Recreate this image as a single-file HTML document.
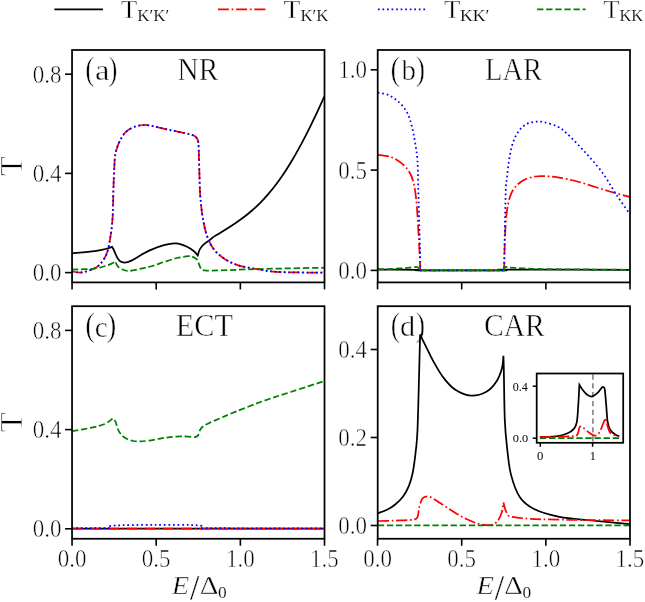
<!DOCTYPE html><html><head><meta charset="utf-8"><style>html,body{margin:0;padding:0;background:#fff;overflow:hidden}svg{display:block;will-change:transform}text{font-family:"Liberation Serif",serif;fill:#000}</style></head><body>
<svg width="645" height="602" viewBox="0 0 645 602">
<rect width="645" height="602" fill="#fff"/>
<defs>
<clipPath id="ca"><rect x="72.05" y="50.00" width="252.45" height="232.40"/></clipPath>
<clipPath id="cb"><rect x="377.70" y="50.00" width="252.30" height="232.40"/></clipPath>
<clipPath id="cc"><rect x="72.05" y="306.20" width="252.45" height="232.55"/></clipPath>
<clipPath id="cd"><rect x="377.70" y="306.20" width="252.30" height="232.55"/></clipPath>
<clipPath id="ci"><rect x="536.70" y="373.50" width="86.50" height="69.30"/></clipPath>
</defs>
<text x="0" y="0" font-size="100" fill="#000" stroke="#fff" stroke-width="1.648" transform="translate(85.268 80.150) scale(0.28033 0.32644)">(</text>
<text x="0" y="0" font-size="100" fill="#000" stroke="#fff" stroke-width="1.600" transform="translate(94.952 79.908) scale(0.32657 0.29854)">a</text>
<text x="0" y="0" font-size="100" fill="#000" stroke="#fff" stroke-width="1.680" transform="translate(108.534 80.150) scale(0.26865 0.32644)">)</text>
<text x="0" y="0" font-size="100" fill="#000" stroke="#fff" stroke-width="1.617" transform="translate(390.517 80.150) scale(0.29202 0.32644)">(</text>
<text x="0" y="0" font-size="100" fill="#000" stroke="#fff" stroke-width="1.707" transform="translate(401.400 79.911) scale(0.29010 0.29562)">b</text>
<text x="0" y="0" font-size="100" fill="#000" stroke="#fff" stroke-width="1.648" transform="translate(415.697 80.150) scale(0.28033 0.32644)">)</text>
<text x="0" y="0" font-size="100" fill="#000" stroke="#fff" stroke-width="1.608" transform="translate(85.217 336.380) scale(0.29202 0.32975)">(</text>
<text x="0" y="0" font-size="100" fill="#000" stroke="#fff" stroke-width="1.695" transform="translate(94.693 336.608) scale(0.29067 0.29940)">c</text>
<text x="0" y="0" font-size="100" fill="#000" stroke="#fff" stroke-width="1.598" transform="translate(106.546 336.380) scale(0.29591 0.32975)">)</text>
<text x="0" y="0" font-size="100" fill="#000" stroke="#fff" stroke-width="1.639" transform="translate(390.868 336.380) scale(0.28033 0.32975)">(</text>
<text x="0" y="0" font-size="100" fill="#000" stroke="#fff" stroke-width="1.654" transform="translate(400.004 336.306) scale(0.30333 0.30130)">d</text>
<text x="0" y="0" font-size="100" fill="#000" stroke="#fff" stroke-width="1.639" transform="translate(415.697 336.380) scale(0.28033 0.32975)">)</text>
<text x="0" y="0" font-size="100" fill="#000" stroke="#fff" stroke-width="1.636" transform="translate(177.554 80.100) scale(0.29362 0.31766)">NR</text>
<text x="0" y="0" font-size="100" fill="#000" stroke="#fff" stroke-width="1.677" transform="translate(484.977 80.100) scale(0.28583 0.31053)">LAR</text>
<text x="0" y="0" font-size="100" fill="#000" stroke="#fff" stroke-width="1.631" transform="translate(175.829 336.496) scale(0.30218 0.31107)">ECT</text>
<text x="0" y="0" font-size="100" fill="#000" stroke="#fff" stroke-width="1.635" transform="translate(483.986 336.492) scale(0.29598 0.31553)">CAR</text>
<path d="M72.05 253.40 C75.84 253.02 88.94 251.90 94.80 251.10 C100.66 250.30 104.33 249.32 107.20 248.60 C110.07 247.88 111.20 247.10 112.00 246.80 C112.32 247.35 113.07 248.38 113.90 250.10 C114.73 251.82 115.97 255.23 117.00 257.10 C118.03 258.97 118.82 260.38 120.10 261.30 C121.38 262.22 122.90 262.67 124.70 262.60 C126.50 262.53 128.18 262.15 130.90 260.90 C133.62 259.65 137.77 256.90 141.00 255.10 C144.23 253.30 146.33 251.80 150.30 250.10 C154.27 248.40 160.52 246.02 164.80 244.90 C169.08 243.78 172.28 243.08 176.00 243.40 C179.72 243.72 184.00 245.42 187.10 246.80 C190.20 248.18 192.83 250.25 194.60 251.70 C196.37 253.15 197.18 254.87 197.70 255.50 C198.00 254.58 198.78 251.55 199.50 250.00 C200.22 248.45 201.08 247.30 202.00 246.20 C202.92 245.10 203.90 244.28 205.00 243.40 C206.10 242.52 207.05 242.07 208.60 240.90 C210.15 239.73 212.40 237.72 214.30 236.40 C216.20 235.08 217.72 234.40 220.00 233.00 C222.28 231.60 225.33 229.72 228.00 228.00 C230.67 226.28 233.33 224.53 236.00 222.70 C238.67 220.87 241.33 219.03 244.00 217.00 C246.67 214.97 249.33 212.82 252.00 210.50 C254.67 208.18 257.33 205.78 260.00 203.10 C262.67 200.42 265.33 197.50 268.00 194.40 C270.67 191.30 273.33 188.03 276.00 184.50 C278.67 180.97 281.33 177.20 284.00 173.20 C286.67 169.20 289.33 164.97 292.00 160.50 C294.67 156.03 297.33 151.30 300.00 146.40 C302.67 141.50 305.33 136.38 308.00 131.10 C310.67 125.82 313.33 120.33 316.00 114.70 C318.67 109.07 322.17 101.32 324.00 97.30 C325.83 93.28 326.50 91.72 327.00 90.60" fill="none" stroke="#000000" stroke-width="1.75"  clip-path="url(#ca)"/>
<path d="M71.70 271.40 C73.42 271.57 77.92 273.07 82.00 272.40 C86.08 271.73 92.53 269.63 96.20 267.40 C99.87 265.17 101.98 262.20 104.00 259.00 C106.02 255.80 106.92 254.37 108.30 248.20 C109.68 242.03 111.45 231.70 112.30 222.00 C113.15 212.30 113.12 198.03 113.40 190.00 C113.68 181.97 113.73 179.33 114.00 173.80 C114.27 168.27 114.50 161.12 115.00 156.80 C115.50 152.48 116.02 150.88 117.00 147.90 C117.98 144.92 119.42 141.57 120.90 138.90 C122.38 136.23 123.73 133.88 125.90 131.90 C128.07 129.92 130.92 128.15 133.90 127.00 C136.88 125.85 140.65 125.13 143.80 125.00 C146.95 124.87 148.40 125.35 152.80 126.20 C157.20 127.05 164.12 128.77 170.20 130.10 C176.28 131.43 185.25 133.20 189.30 134.20 C193.35 135.20 193.18 135.33 194.50 136.10 C195.82 136.87 196.55 137.65 197.20 138.80 C197.85 139.95 198.12 140.25 198.40 143.00 C198.68 145.75 198.73 150.22 198.90 155.30 C199.07 160.38 199.23 167.77 199.40 173.50 C199.57 179.23 199.70 185.28 199.90 189.70 C200.10 194.12 200.15 195.47 200.60 200.00 C201.05 204.53 201.57 211.02 202.60 216.90 C203.63 222.78 204.92 229.88 206.80 235.30 C208.68 240.72 210.85 245.42 213.90 249.40 C216.95 253.38 220.88 256.50 225.10 259.20 C229.32 261.90 233.55 263.90 239.20 265.60 C244.85 267.30 254.10 268.48 259.00 269.40 C263.90 270.32 263.90 270.62 268.60 271.10 C273.30 271.58 277.63 272.05 287.20 272.30 C296.77 272.55 319.53 272.55 326.00 272.60" fill="none" stroke="#ff0000" stroke-width="1.75" stroke-dasharray="11 2.75 1.72 2.75" clip-path="url(#ca)"/>
<path d="M71.70 271.40 C73.42 271.57 77.92 273.07 82.00 272.40 C86.08 271.73 92.53 269.63 96.20 267.40 C99.87 265.17 101.98 262.20 104.00 259.00 C106.02 255.80 106.92 254.37 108.30 248.20 C109.68 242.03 111.45 231.70 112.30 222.00 C113.15 212.30 113.12 198.03 113.40 190.00 C113.68 181.97 113.73 179.33 114.00 173.80 C114.27 168.27 114.50 161.12 115.00 156.80 C115.50 152.48 116.02 150.88 117.00 147.90 C117.98 144.92 119.42 141.57 120.90 138.90 C122.38 136.23 123.73 133.88 125.90 131.90 C128.07 129.92 130.92 128.15 133.90 127.00 C136.88 125.85 140.65 125.13 143.80 125.00 C146.95 124.87 148.40 125.35 152.80 126.20 C157.20 127.05 164.12 128.77 170.20 130.10 C176.28 131.43 185.25 133.20 189.30 134.20 C193.35 135.20 193.18 135.33 194.50 136.10 C195.82 136.87 196.55 137.65 197.20 138.80 C197.85 139.95 198.12 140.25 198.40 143.00 C198.68 145.75 198.73 150.22 198.90 155.30 C199.07 160.38 199.23 167.77 199.40 173.50 C199.57 179.23 199.70 185.28 199.90 189.70 C200.10 194.12 200.15 195.47 200.60 200.00 C201.05 204.53 201.57 211.02 202.60 216.90 C203.63 222.78 204.92 229.88 206.80 235.30 C208.68 240.72 210.85 245.42 213.90 249.40 C216.95 253.38 220.88 256.50 225.10 259.20 C229.32 261.90 233.55 263.90 239.20 265.60 C244.85 267.30 254.10 268.48 259.00 269.40 C263.90 270.32 263.90 270.62 268.60 271.10 C273.30 271.58 277.63 272.05 287.20 272.30 C296.77 272.55 319.53 272.55 326.00 272.60" fill="none" stroke="#0000ff" stroke-width="1.75" stroke-dasharray="1.72 2.83" clip-path="url(#ca)"/>
<path d="M72.05 269.70 C75.84 269.50 88.94 269.22 94.80 268.50 C100.66 267.78 103.80 266.53 107.20 265.40 C110.60 264.27 113.87 262.32 115.20 261.70 C115.63 262.48 116.73 265.17 117.80 266.40 C118.87 267.63 119.85 268.33 121.60 269.10 C123.35 269.87 125.07 271.07 128.30 271.00 C131.53 270.93 136.98 269.53 141.00 268.70 C145.02 267.87 148.43 267.17 152.40 266.00 C156.37 264.83 160.67 263.03 164.80 261.70 C168.93 260.37 173.27 258.93 177.20 258.00 C181.13 257.07 185.72 256.25 188.40 256.10 C191.08 255.95 191.85 256.48 193.30 257.10 C194.75 257.72 195.85 257.90 197.10 259.80 C198.35 261.70 199.57 266.73 200.80 268.50 C202.03 270.27 201.30 270.08 204.50 270.40 C207.70 270.72 212.42 270.58 220.00 270.40 C227.58 270.22 238.80 269.63 250.00 269.30 C261.20 268.97 274.53 268.67 287.20 268.40 C299.87 268.13 319.53 267.82 326.00 267.70" fill="none" stroke="#008000" stroke-width="1.75" stroke-dasharray="6.35 2.75" clip-path="url(#ca)"/>
<rect x="72.05" y="50.00" width="252.45" height="232.40" fill="none" stroke="#000" stroke-width="1.75"/>
<line x1="65.05" y1="272.60" x2="72.05" y2="272.60" stroke="#000" stroke-width="1.6"/>
<text x="0" y="0" font-size="100" fill="#000" stroke="#fff" stroke-width="2.121" transform="translate(32.724 281.158) scale(0.23002 0.24146)">0.0</text>
<line x1="65.05" y1="173.40" x2="72.05" y2="173.40" stroke="#000" stroke-width="1.6"/>
<text x="0" y="0" font-size="100" fill="#000" stroke="#fff" stroke-width="2.121" transform="translate(32.724 181.958) scale(0.23002 0.24146)">0.4</text>
<line x1="65.05" y1="74.20" x2="72.05" y2="74.20" stroke="#000" stroke-width="1.6"/>
<text x="0" y="0" font-size="100" fill="#000" stroke="#fff" stroke-width="2.121" transform="translate(32.724 82.758) scale(0.23002 0.24146)">0.8</text>
<line x1="72.05" y1="282.40" x2="72.05" y2="289.40" stroke="#000" stroke-width="1.6"/>
<line x1="156.20" y1="282.40" x2="156.20" y2="289.40" stroke="#000" stroke-width="1.6"/>
<line x1="240.35" y1="282.40" x2="240.35" y2="289.40" stroke="#000" stroke-width="1.6"/>
<line x1="324.50" y1="282.40" x2="324.50" y2="289.40" stroke="#000" stroke-width="1.6"/>
<path d="M377.70 269.60 C384.45 269.63 411.07 269.67 418.20 269.80 C425.33 269.93 406.28 270.30 420.50 270.40 C434.72 270.50 489.42 270.53 503.50 270.40 C517.58 270.27 483.58 269.68 505.00 269.60 C526.42 269.52 610.83 269.85 632.00 269.90" fill="none" stroke="#000000" stroke-width="1.75"  clip-path="url(#cb)"/>
<path d="M377.80 154.80 C380.10 155.22 387.37 155.65 391.60 157.30 C395.83 158.95 400.15 162.08 403.20 164.70 C406.25 167.32 408.10 169.67 409.90 173.00 C411.70 176.33 412.85 179.18 414.00 184.70 C415.15 190.22 415.90 195.27 416.80 206.10 C417.70 216.93 418.82 238.98 419.40 249.70 C419.98 260.42 420.15 266.95 420.30 270.40 L504.10 270.40 C504.25 264.88 504.58 246.75 505.00 237.30 C505.42 227.85 505.77 220.47 506.60 213.70 C507.43 206.93 508.45 201.28 510.00 196.70 C511.55 192.12 513.42 189.07 515.90 186.20 C518.38 183.33 521.65 181.12 524.90 179.50 C528.15 177.88 532.17 177.05 535.40 176.50 C538.63 175.95 540.57 176.07 544.30 176.20 C548.03 176.33 552.00 176.33 557.80 177.30 C563.60 178.27 570.72 179.72 579.10 182.00 C587.48 184.28 599.28 188.42 608.10 191.00 C616.92 193.58 628.02 196.42 632.00 197.50" fill="none" stroke="#ff0000" stroke-width="1.75" stroke-dasharray="11 2.75 1.72 2.75" clip-path="url(#cb)"/>
<path d="M377.80 92.50 C379.55 92.92 384.88 93.48 388.30 95.00 C391.72 96.52 395.25 98.83 398.30 101.60 C401.35 104.37 404.40 107.72 406.60 111.60 C408.80 115.48 410.12 119.92 411.50 124.90 C412.88 129.88 413.92 135.68 414.90 141.50 C415.88 147.32 416.85 152.55 417.40 159.80 C417.95 167.05 417.93 175.80 418.20 185.00 C418.47 194.20 418.70 204.22 419.00 215.00 C419.30 225.78 419.77 240.47 420.00 249.70 C420.23 258.93 420.33 266.95 420.40 270.40 L504.10 270.40 C504.25 262.25 504.72 234.90 505.00 221.50 C505.28 208.10 505.47 197.37 505.80 190.00 C506.13 182.63 506.43 182.42 507.00 177.30 C507.57 172.18 508.22 165.03 509.20 159.30 C510.18 153.57 511.28 147.63 512.90 142.90 C514.52 138.17 516.65 134.02 518.90 130.90 C521.15 127.78 523.65 125.73 526.40 124.20 C529.15 122.67 532.42 122.02 535.40 121.70 C538.38 121.38 540.57 121.47 544.30 122.30 C548.03 123.13 553.95 124.75 557.80 126.70 C561.65 128.65 562.88 129.78 567.40 134.00 C571.92 138.22 579.08 145.58 584.90 152.00 C590.72 158.42 596.97 165.25 602.30 172.50 C607.63 179.75 611.95 188.08 616.90 195.50 C621.85 202.92 629.48 213.42 632.00 217.00" fill="none" stroke="#0000ff" stroke-width="1.75" stroke-dasharray="1.72 2.83" clip-path="url(#cb)"/>
<path d="M377.70 269.20 C380.00 269.15 387.65 269.05 391.50 268.90 C395.35 268.75 397.83 268.50 400.80 268.30 C403.77 268.10 406.72 267.93 409.30 267.70 C411.88 267.47 414.82 266.92 416.30 266.90 C417.78 266.88 417.48 267.02 418.20 267.60 C418.92 268.18 420.20 269.93 420.60 270.40 L504.10 270.40 C504.27 269.85 504.03 267.55 505.10 267.10 C506.17 266.65 508.30 267.53 510.50 267.70 C512.70 267.87 515.45 267.95 518.30 268.10 C521.15 268.25 524.63 268.47 527.60 268.60 C530.57 268.73 533.27 268.82 536.10 268.90 C538.93 268.98 535.62 269.00 544.60 269.10 C553.58 269.20 575.43 269.38 590.00 269.50 C604.57 269.62 625.00 269.75 632.00 269.80" fill="none" stroke="#008000" stroke-width="1.75" stroke-dasharray="6.35 2.75" clip-path="url(#cb)"/>
<rect x="377.70" y="50.00" width="252.30" height="232.40" fill="none" stroke="#000" stroke-width="1.75"/>
<line x1="370.70" y1="270.40" x2="377.70" y2="270.40" stroke="#000" stroke-width="1.6"/>
<text x="0" y="0" font-size="100" fill="#000" stroke="#fff" stroke-width="2.121" transform="translate(338.374 278.958) scale(0.23002 0.24146)">0.0</text>
<line x1="370.70" y1="170.10" x2="377.70" y2="170.10" stroke="#000" stroke-width="1.6"/>
<text x="0" y="0" font-size="100" fill="#000" stroke="#fff" stroke-width="2.121" transform="translate(338.374 178.658) scale(0.23002 0.24146)">0.5</text>
<line x1="370.70" y1="69.80" x2="377.70" y2="69.80" stroke="#000" stroke-width="1.6"/>
<text x="0" y="0" font-size="100" fill="#000" stroke="#fff" stroke-width="2.121" transform="translate(338.374 78.358) scale(0.23002 0.24146)">1.0</text>
<line x1="377.55" y1="282.40" x2="377.55" y2="289.40" stroke="#000" stroke-width="1.6"/>
<line x1="461.70" y1="282.40" x2="461.70" y2="289.40" stroke="#000" stroke-width="1.6"/>
<line x1="545.85" y1="282.40" x2="545.85" y2="289.40" stroke="#000" stroke-width="1.6"/>
<line x1="630.00" y1="282.40" x2="630.00" y2="289.40" stroke="#000" stroke-width="1.6"/>
<path d="M71.70 528.60 L326.00 528.60" fill="none" stroke="#000000" stroke-width="1.75"  clip-path="url(#cc)"/>
<path d="M71.70 528.60 L326.00 528.60" fill="none" stroke="#ff0000" stroke-width="1.75" stroke-dasharray="11 2.75 1.72 2.75" clip-path="url(#cc)"/>
<path d="M71.70 528.20 L110.20 528.00 C110.67 527.60 105.53 526.12 113.00 525.60 C120.47 525.08 140.83 524.95 155.00 524.90 C169.17 524.85 190.33 524.75 198.00 525.30 C205.67 525.85 200.50 527.72 201.00 528.20 L326.00 528.40" fill="none" stroke="#0000ff" stroke-width="1.75" stroke-dasharray="1.72 2.83" clip-path="url(#cc)"/>
<path d="M72.05 431.20 C75.33 430.60 86.26 428.80 91.70 427.60 C97.14 426.40 101.18 425.52 104.70 424.00 C108.22 422.48 111.45 419.42 112.80 418.50 C113.25 419.02 114.73 420.05 115.50 421.60 C116.27 423.15 116.62 425.85 117.40 427.80 C118.18 429.75 118.83 431.55 120.20 433.30 C121.57 435.05 123.42 437.02 125.60 438.30 C127.78 439.58 130.85 440.48 133.30 441.00 C135.75 441.52 137.72 441.47 140.30 441.40 C142.88 441.33 145.52 441.07 148.80 440.60 C152.08 440.13 156.47 439.18 160.00 438.60 C163.53 438.02 166.40 437.47 170.00 437.10 C173.60 436.73 177.47 436.40 181.60 436.40 C185.73 436.40 192.60 436.98 194.80 437.10 C195.32 436.85 197.07 436.70 197.90 435.60 C198.73 434.50 199.02 431.98 199.80 430.50 C200.58 429.02 201.10 427.92 202.60 426.70 C204.10 425.48 205.97 424.57 208.80 423.20 C211.63 421.83 216.03 420.05 219.60 418.50 C223.17 416.95 223.38 416.65 230.20 413.90 C237.02 411.15 250.42 405.65 260.50 402.00 C270.58 398.35 279.78 395.58 290.70 392.00 C301.62 388.42 320.12 382.42 326.00 380.50" fill="none" stroke="#008000" stroke-width="1.75" stroke-dasharray="6.35 2.75" clip-path="url(#cc)"/>
<rect x="72.05" y="306.20" width="252.45" height="232.55" fill="none" stroke="#000" stroke-width="1.75"/>
<line x1="65.05" y1="528.80" x2="72.05" y2="528.80" stroke="#000" stroke-width="1.6"/>
<text x="0" y="0" font-size="100" fill="#000" stroke="#fff" stroke-width="2.121" transform="translate(32.724 537.358) scale(0.23002 0.24146)">0.0</text>
<line x1="65.05" y1="429.60" x2="72.05" y2="429.60" stroke="#000" stroke-width="1.6"/>
<text x="0" y="0" font-size="100" fill="#000" stroke="#fff" stroke-width="2.121" transform="translate(32.724 438.158) scale(0.23002 0.24146)">0.4</text>
<line x1="65.05" y1="330.40" x2="72.05" y2="330.40" stroke="#000" stroke-width="1.6"/>
<text x="0" y="0" font-size="100" fill="#000" stroke="#fff" stroke-width="2.121" transform="translate(32.724 338.958) scale(0.23002 0.24146)">0.8</text>
<line x1="72.05" y1="538.75" x2="72.05" y2="545.75" stroke="#000" stroke-width="1.6"/>
<text x="0" y="0" font-size="100" fill="#000" stroke="#fff" stroke-width="2.121" transform="translate(57.674 567.258) scale(0.23002 0.24146)">0.0</text>
<line x1="156.20" y1="538.75" x2="156.20" y2="545.75" stroke="#000" stroke-width="1.6"/>
<text x="0" y="0" font-size="100" fill="#000" stroke="#fff" stroke-width="2.121" transform="translate(141.824 567.258) scale(0.23002 0.24146)">0.5</text>
<line x1="240.35" y1="538.75" x2="240.35" y2="545.75" stroke="#000" stroke-width="1.6"/>
<text x="0" y="0" font-size="100" fill="#000" stroke="#fff" stroke-width="2.121" transform="translate(225.974 567.258) scale(0.23002 0.24146)">1.0</text>
<line x1="324.50" y1="538.75" x2="324.50" y2="545.75" stroke="#000" stroke-width="1.6"/>
<text x="0" y="0" font-size="100" fill="#000" stroke="#fff" stroke-width="2.121" transform="translate(310.124 567.258) scale(0.23002 0.24146)">1.5</text>
<path d="M377.80 513.30 C379.33 512.70 384.15 511.13 387.00 509.70 C389.85 508.27 392.25 506.87 394.90 504.70 C397.55 502.53 400.57 499.85 402.90 496.70 C405.23 493.55 407.23 489.95 408.90 485.80 C410.57 481.65 411.73 477.78 412.90 471.80 C414.07 465.82 415.13 456.87 415.90 449.90 C416.67 442.93 416.98 441.97 417.50 430.00 C418.02 418.03 418.57 394.02 419.00 378.10 C419.43 362.18 419.92 341.77 420.10 334.50 C420.82 335.97 422.07 338.62 424.40 343.30 C426.73 347.98 430.87 356.80 434.10 362.60 C437.33 368.40 440.25 373.57 443.80 378.10 C447.35 382.63 450.88 386.88 455.40 389.80 C459.92 392.72 465.73 395.28 470.90 395.60 C476.07 395.92 482.20 393.97 486.40 391.70 C490.60 389.43 493.52 385.88 496.10 382.00 C498.68 378.12 500.68 372.75 501.90 368.40 C503.12 364.05 503.15 357.98 503.40 355.90 C503.47 357.98 503.57 357.72 503.80 368.40 C504.03 379.08 504.22 406.43 504.80 420.00 C505.38 433.57 506.27 440.70 507.30 449.80 C508.33 458.90 508.93 466.75 511.00 474.60 C513.07 482.45 515.77 491.12 519.70 496.90 C523.63 502.68 527.98 505.98 534.60 509.30 C541.22 512.62 549.88 514.93 559.40 516.80 C568.92 518.67 579.60 519.25 591.70 520.50 C603.80 521.75 625.28 523.67 632.00 524.30" fill="none" stroke="#000000" stroke-width="1.75"  clip-path="url(#cd)"/>
<path d="M377.80 521.00 C380.65 520.93 389.53 520.77 394.90 520.60 C400.27 520.43 406.32 520.43 410.00 520.00 C413.68 519.57 415.45 520.15 417.00 518.00 C418.55 515.85 418.40 510.33 419.30 507.10 C420.20 503.87 421.10 500.40 422.40 498.60 C423.70 496.80 425.28 496.30 427.10 496.30 C428.92 496.30 429.68 496.53 433.30 498.60 C436.92 500.67 443.63 505.47 448.80 508.70 C453.97 511.93 459.13 515.42 464.30 518.00 C469.47 520.58 475.42 523.03 479.80 524.20 C484.18 525.37 487.77 525.38 490.60 525.00 C493.43 524.62 494.98 523.85 496.80 521.90 C498.62 519.95 500.38 516.53 501.50 513.30 C502.62 510.07 503.17 504.30 503.50 502.50 C503.80 503.67 504.60 507.57 505.30 509.50 C506.00 511.43 506.53 512.88 507.70 514.10 C508.87 515.32 506.58 515.93 512.30 516.80 C518.02 517.67 522.05 518.68 542.00 519.30 C561.95 519.92 617.00 520.30 632.00 520.50" fill="none" stroke="#ff0000" stroke-width="1.75" stroke-dasharray="11 2.75 1.72 2.75" clip-path="url(#cd)"/>
<path d="M377.80 525.40 L632.00 525.40" fill="none" stroke="#008000" stroke-width="1.75" stroke-dasharray="6.35 2.75" clip-path="url(#cd)"/>
<rect x="377.70" y="306.20" width="252.30" height="232.55" fill="none" stroke="#000" stroke-width="1.75"/>
<line x1="370.70" y1="525.50" x2="377.70" y2="525.50" stroke="#000" stroke-width="1.6"/>
<text x="0" y="0" font-size="100" fill="#000" stroke="#fff" stroke-width="2.121" transform="translate(338.374 534.058) scale(0.23002 0.24146)">0.0</text>
<line x1="370.70" y1="437.50" x2="377.70" y2="437.50" stroke="#000" stroke-width="1.6"/>
<text x="0" y="0" font-size="100" fill="#000" stroke="#fff" stroke-width="2.121" transform="translate(338.374 446.058) scale(0.23002 0.24146)">0.2</text>
<line x1="370.70" y1="349.50" x2="377.70" y2="349.50" stroke="#000" stroke-width="1.6"/>
<text x="0" y="0" font-size="100" fill="#000" stroke="#fff" stroke-width="2.121" transform="translate(338.374 358.058) scale(0.23002 0.24146)">0.4</text>
<line x1="377.55" y1="538.75" x2="377.55" y2="545.75" stroke="#000" stroke-width="1.6"/>
<text x="0" y="0" font-size="100" fill="#000" stroke="#fff" stroke-width="2.121" transform="translate(363.174 567.258) scale(0.23002 0.24146)">0.0</text>
<line x1="461.70" y1="538.75" x2="461.70" y2="545.75" stroke="#000" stroke-width="1.6"/>
<text x="0" y="0" font-size="100" fill="#000" stroke="#fff" stroke-width="2.121" transform="translate(447.324 567.258) scale(0.23002 0.24146)">0.5</text>
<line x1="545.85" y1="538.75" x2="545.85" y2="545.75" stroke="#000" stroke-width="1.6"/>
<text x="0" y="0" font-size="100" fill="#000" stroke="#fff" stroke-width="2.121" transform="translate(531.474 567.258) scale(0.23002 0.24146)">1.0</text>
<line x1="630.00" y1="538.75" x2="630.00" y2="545.75" stroke="#000" stroke-width="1.6"/>
<text x="0" y="0" font-size="100" fill="#000" stroke="#fff" stroke-width="2.121" transform="translate(615.624 567.258) scale(0.23002 0.24146)">1.5</text>
<rect x="536.70" y="373.50" width="86.50" height="69.30" fill="#fff"/>
<line x1="592.9" y1="373.50" x2="592.9" y2="442.80" stroke="#808080" stroke-width="1.6" stroke-dasharray="5.3 3.5" stroke-dashoffset="-1"/>
<path d="M539.90 437.00 C542.57 436.88 551.37 436.88 555.90 436.30 C560.43 435.72 564.07 434.78 567.10 433.50 C570.13 432.22 572.47 430.58 574.10 428.60 C575.73 426.62 576.20 425.55 576.90 421.60 C577.60 417.65 577.88 411.05 578.30 404.90 C578.72 398.75 579.22 388.07 579.40 384.70 C579.90 385.50 581.20 387.92 582.40 389.50 C583.60 391.08 585.08 393.03 586.60 394.20 C588.12 395.37 589.63 396.77 591.50 396.50 C593.37 396.23 596.05 394.10 597.80 392.60 C599.55 391.10 601.03 388.40 602.00 387.50 C602.97 386.60 603.13 386.87 603.60 387.20 C604.07 387.53 604.37 386.55 604.80 389.50 C605.23 392.45 605.73 399.55 606.20 404.90 C606.67 410.25 606.92 417.42 607.60 421.60 C608.28 425.78 608.92 427.78 610.30 430.00 C611.68 432.22 614.38 433.85 615.90 434.90 C617.42 435.95 618.82 436.07 619.40 436.30" fill="none" stroke="#000000" stroke-width="1.75"  clip-path="url(#ci)"/>
<path d="M539.90 437.00 C544.67 436.88 562.33 436.58 568.50 436.30 C574.67 436.02 575.05 436.82 576.90 435.30 C578.75 433.78 578.58 428.50 579.60 427.20 C580.62 425.90 581.37 426.57 583.00 427.50 C584.63 428.43 587.40 431.45 589.40 432.80 C591.40 434.15 593.37 435.60 595.00 435.60 C596.63 435.60 597.80 434.90 599.20 432.80 C600.60 430.70 602.35 425.45 603.40 423.00 C604.45 420.55 605.15 418.92 605.50 418.10 C605.75 419.08 606.20 421.55 607.00 424.00 C607.80 426.45 608.35 430.75 610.30 432.80 C612.25 434.85 617.30 435.72 618.70 436.30" fill="none" stroke="#ff0000" stroke-width="1.75" stroke-dasharray="11 2.75 1.72 2.75" clip-path="url(#ci)"/>
<path d="M539.90 438.10 L619.40 438.10" fill="none" stroke="#008000" stroke-width="1.75" stroke-dasharray="6.35 2.75" clip-path="url(#ci)"/>
<rect x="536.70" y="373.50" width="86.50" height="69.30" fill="none" stroke="#000" stroke-width="1.75"/>
<line x1="532.70" y1="438.20" x2="536.70" y2="438.20" stroke="#000" stroke-width="1.5"/>
<text x="0" y="0" font-size="100" fill="#383838" transform="translate(512.780 442.102) scale(0.12353 0.10453)">0.0</text>
<line x1="532.70" y1="386.20" x2="536.70" y2="386.20" stroke="#000" stroke-width="1.5"/>
<text x="0" y="0" font-size="100" fill="#383838" transform="translate(512.788 390.687) scale(0.12121 0.11484)">0.4</text>
<line x1="540.30" y1="442.80" x2="540.30" y2="446.80" stroke="#000" stroke-width="1.5"/>
<text x="0" y="0" font-size="100" fill="#383838" transform="translate(537.065 460.037) scale(0.12741 0.11559)">0</text>
<line x1="592.60" y1="442.80" x2="592.60" y2="446.80" stroke="#000" stroke-width="1.5"/>
<text x="0" y="0" font-size="100" fill="#383838" transform="translate(589.676 460.150) scale(0.12214 0.11815)">1</text>
<text x="0" y="0" font-size="100" stroke="#fff" stroke-width="2.484" transform="translate(22.350 175.943) rotate(-90) scale(0.32803 0.31613)">T</text>
<text x="0" y="0" font-size="100" stroke="#fff" stroke-width="2.484" transform="translate(22.350 432.243) rotate(-90) scale(0.32803 0.31613)">T</text>
<text x="0" y="0" font-size="100" font-style="italic" fill="#000" stroke="#fff" stroke-width="1.882" transform="translate(171.836 593.800) scale(0.28692 0.24435)">E</text>
<text x="0" y="0" font-size="100" fill="#000" stroke="#fff" stroke-width="0.723" transform="translate(190.025 599.628) scale(0.33653 0.35504)">/</text>
<text x="0" y="0" font-size="100" fill="#000" stroke="#fff" stroke-width="1.849" transform="translate(199.692 594.000) scale(0.29081 0.24994)">Δ</text>
<text x="0" y="0" font-size="100" fill="#000" stroke="#fff" stroke-width="0.860" transform="translate(218.015 597.554) scale(0.17342 0.17561)">0</text>
<text x="0" y="0" font-size="100" font-style="italic" fill="#000" stroke="#fff" stroke-width="1.882" transform="translate(476.436 593.800) scale(0.28692 0.24435)">E</text>
<text x="0" y="0" font-size="100" fill="#000" stroke="#fff" stroke-width="0.723" transform="translate(494.625 599.628) scale(0.33653 0.35504)">/</text>
<text x="0" y="0" font-size="100" fill="#000" stroke="#fff" stroke-width="1.849" transform="translate(504.292 594.000) scale(0.29081 0.24994)">Δ</text>
<text x="0" y="0" font-size="100" fill="#000" stroke="#fff" stroke-width="0.860" transform="translate(522.615 597.554) scale(0.17342 0.17561)">0</text>
<line x1="54.40" y1="9.4" x2="102.90" y2="9.4" stroke="#000000" stroke-width="1.75" />
<text x="0" y="0" font-size="100" fill="#000" stroke="#fff" stroke-width="1.902" transform="translate(120.711 18.200) scale(0.27075 0.25505)">T</text>
<text x="0" y="0" font-size="100" fill="#000" stroke="#fff" stroke-width="0.910" transform="translate(137.185 20.925) scale(0.16993 0.15959)">K′K′</text>
<line x1="217.90" y1="9.4" x2="266.40" y2="9.4" stroke="#ff0000" stroke-width="1.75" stroke-dasharray="11 2.75 1.72 2.75"/>
<text x="0" y="0" font-size="100" fill="#000" stroke="#fff" stroke-width="1.883" transform="translate(283.501 18.200) scale(0.27596 0.25505)">T</text>
<text x="0" y="0" font-size="100" fill="#000" stroke="#fff" stroke-width="0.915" transform="translate(300.390 20.925) scale(0.16841 0.15959)">K′K</text>
<line x1="377.90" y1="9.4" x2="426.40" y2="9.4" stroke="#0000ff" stroke-width="1.75" stroke-dasharray="1.72 2.83"/>
<text x="0" y="0" font-size="100" fill="#000" stroke="#fff" stroke-width="1.908" transform="translate(443.914 18.200) scale(0.26902 0.25505)">T</text>
<text x="0" y="0" font-size="100" fill="#000" stroke="#fff" stroke-width="0.890" transform="translate(459.963 20.925) scale(0.17761 0.15959)">KK′</text>
<line x1="537.10" y1="9.4" x2="585.60" y2="9.4" stroke="#008000" stroke-width="1.75" stroke-dasharray="6.35 2.75"/>
<text x="0" y="0" font-size="100" fill="#000" stroke="#fff" stroke-width="1.908" transform="translate(603.314 18.200) scale(0.26902 0.25505)">T</text>
<text x="0" y="0" font-size="100" fill="#000" stroke="#fff" stroke-width="0.927" transform="translate(619.402 20.925) scale(0.16403 0.15959)">KK</text>
</svg></body></html>
